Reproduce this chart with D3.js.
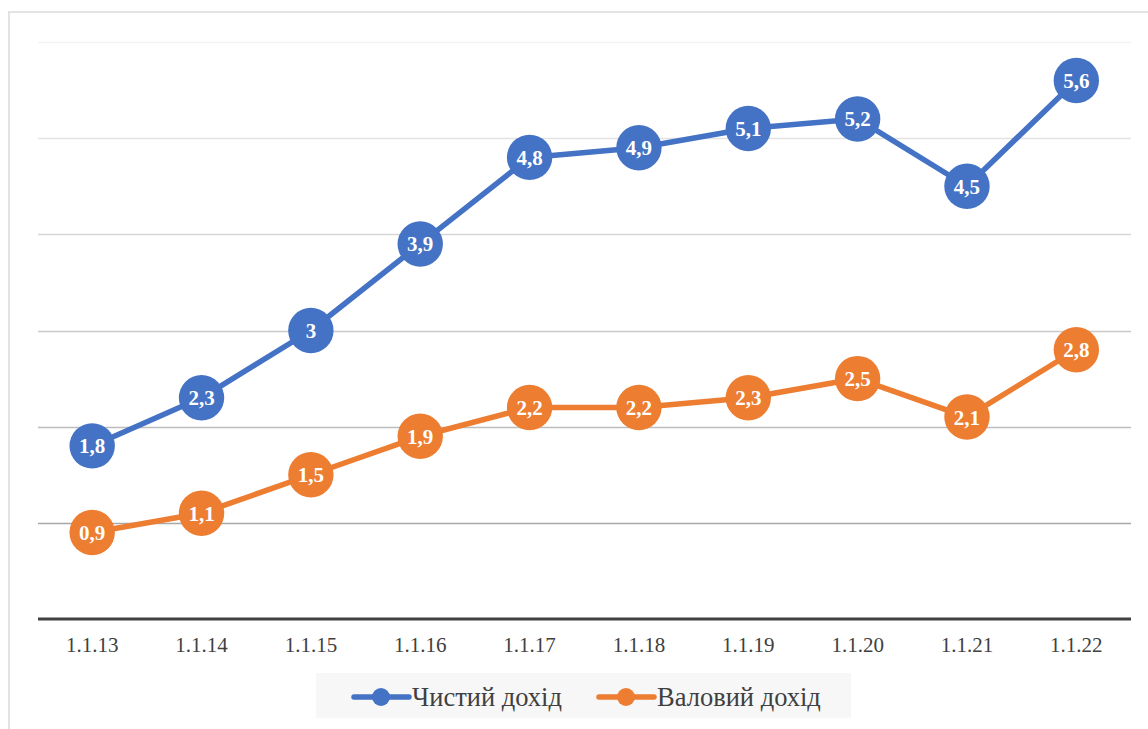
<!DOCTYPE html>
<html><head><meta charset="utf-8">
<script src="https://cdn.jsdelivr.net/npm/d3@7"></script>
</head><body style="margin:0">
<script>
const categories = ["1.1.13","1.1.14","1.1.15","1.1.16","1.1.17","1.1.18","1.1.19","1.1.20","1.1.21","1.1.22"];
const netIncome = [1.8,2.3,3,3.9,4.8,4.9,5.1,5.2,4.5,5.6];
const grossIncome = [0.9,1.1,1.5,1.9,2.2,2.2,2.3,2.5,2.1,2.8];
const seriesNames = ["Чистий дохід","Валовий дохід"];
const yTicks = [1,2,3,4,5,6];
const gridColors = ["#a8a8a8","#bdbdbd","#c9c9c9","#d6d6d6","#e3e3e3","#f3f3f3"];
const colors = ["#4472c4","#ed7d31"];
const SERIF = "'Liberation Serif'";

const W = 1148, H = 729;
const svg = d3.select("body").append("svg").attr("width", W).attr("height", H)
  .style("display", "block").style("font-family", SERIF);

svg.append("rect").attr("x", 9).attr("y", 12).attr("width", W).attr("height", H)
  .attr("fill", "#fff").attr("stroke", "#e3e3e3").attr("stroke-width", 2);

const x = d3.scaleBand().domain(categories).range([37.5, 1131]);
const y = d3.scaleLinear().domain([0, 6]).range([619, 42]);
const cx = d => x(d) + x.bandwidth() / 2;

svg.append("g").selectAll("line").data(yTicks).join("line")
  .attr("x1", 38).attr("x2", 1131)
  .attr("y1", d => Math.round(y(d)) + 0.5).attr("y2", d => Math.round(y(d)) + 0.5)
  .attr("stroke", (d, i) => gridColors[i]).attr("stroke-width", 1.3);

const xAxis = svg.append("g").attr("transform", "translate(0,619)")
  .call(d3.axisBottom(x).tickSize(0).tickPadding(18));
xAxis.attr("font-family", null).attr("font-size", null);
xAxis.select(".domain").attr("stroke", "#404040").attr("stroke-width", 3.2).attr("d", "M38,0H1131");
xAxis.selectAll("text").style("font-family", SERIF).style("font-size", "21px").attr("fill", "#404040");

const line = d3.line().x((d, i) => cx(categories[i])).y(d => y(d));
const allSeries = [netIncome, grossIncome];

allSeries.forEach((vals, s) => {
  const g = svg.append("g");
  g.append("path").datum(vals).attr("d", line).attr("fill", "none")
    .attr("stroke", colors[s]).attr("stroke-width", 5.5).attr("stroke-linejoin", "round");
  g.selectAll("circle").data(vals).join("circle")
    .attr("cx", (d, i) => cx(categories[i])).attr("cy", d => y(d)).attr("r", 22.7)
    .attr("fill", colors[s]);
  g.selectAll("text").data(vals).join("text")
    .attr("x", (d, i) => cx(categories[i])).attr("y", d => y(d) + 7.5)
    .attr("text-anchor", "middle")
    .style("font-family", SERIF)
    .style("font-weight", "bold").style("font-size", "21px").attr("fill", "#fff")
    .text(d => String(d).replace(".", ","));
});

const lg = svg.append("g");
lg.append("rect").attr("x", 316).attr("y", 673).attr("width", 535).attr("height", 45).attr("fill", "#f7f7f7");
const legendX = [354, 599];
seriesNames.forEach((name, i) => {
  const lx = legendX[i];
  lg.append("line").attr("x1", lx).attr("x2", lx + 55).attr("y1", 697).attr("y2", 697)
    .attr("stroke", colors[i]).attr("stroke-width", 5.5).attr("stroke-linecap", "round");
  lg.append("circle").attr("cx", lx + 27).attr("cy", 697).attr("r", 9).attr("fill", colors[i]);
  lg.append("text").attr("x", lx + 58).attr("y", 706)
    .style("font-family", SERIF)
    .style("font-size", "26.5px").attr("fill", "#404040").text(name);
});
</script>
</body></html>
